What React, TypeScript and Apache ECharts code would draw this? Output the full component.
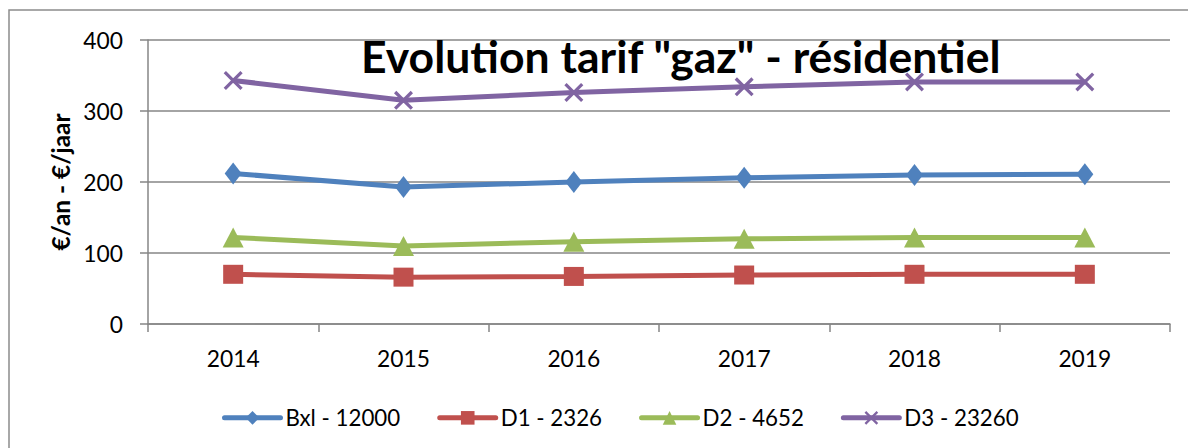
import React, { useEffect, useRef } from "react";
import * as echarts from "echarts";

const years = ["2014", "2015", "2016", "2017", "2018", "2019"];
const bxl = [212, 193, 200, 206, 210, 211];
const d1 = [70, 66, 67, 69, 70, 70];
const d2 = [122, 110, 116, 120, 122, 122];
const d3 = [343, 315, 326, 334, 341, 341];
const seriesNames = ["Bxl - 12000", "D1 - 2326", "D2 - 4652", "D3 - 23260"];
const titleText = 'Evolution tarif "gaz" - résidentiel';
const yName = "€/an - €/jaar";
const colors = ["#4F81BD", "#C0504D", "#9BBB59", "#8064A2"];

const crossPath =
  "path://M0,1.2L1.2,0L10,8.8L8.8,10Z M8.8,0L10,1.2L1.2,10L0,8.8Z";

const FONT = "Lato";

function fit(text: string, weight: string, target: number): number {
  const c = document.createElement("canvas").getContext("2d");
  if (!c) return 20;
  c.font = `${weight} 100px ${FONT}`;
  const w = c.measureText(text).width;
  return Math.round((target / w) * 100 * 10) / 10;
}

export default function App() {
  const ref = useRef<HTMLDivElement>(null);
  useEffect(() => {
    if (!ref.current) return;
    const chart = echarts.init(ref.current, null, { renderer: "svg" });
    const titleSize = fit(titleText, "bold", 640);
    const legendSize = fit("Bxl - 12000", "normal", 115);
    const tickSize = fit("2014", "normal", 53);
    const nameSize = fit(yName, "bold", 137);
    const data = [bxl, d1, d2, d3];
    const symbols = ["diamond", "rect", "triangle", crossPath];
    const sizes: any[] = [[17, 22], [20, 19], [21, 20], [19, 19]];
    chart.setOption({
      animation: false,
      backgroundColor: "#fff",
      title: {
        text: titleText,
        left: 356,
        top: 72 - titleSize,
        textStyle: { fontFamily: FONT, fontSize: titleSize, fontWeight: "bold", color: "#000" },
      },
      graphic: [
        {
          type: "rect",
          shape: { x: 9, y: 10, width: 1300, height: 600 },
          style: { fill: "none", stroke: "#8c8c8c", lineWidth: 1.5 },
          silent: true,
          z: -1,
        },
      ],
      legend: {
        left: 217,
        top: 413 - legendSize / 2,
        itemWidth: 56,
        itemHeight: 17,
        itemGap: 37,
        lineStyle: { width: 5, cap: "round" },
        textStyle: { fontFamily: FONT, fontSize: legendSize, color: "#000" },
        data: seriesNames,
      },
      grid: { left: 148, right: 18, top: 40, bottom: 124 },
      xAxis: {
        type: "category",
        data: years,
        boundaryGap: true,
        axisLine: { lineStyle: { color: "#868686", width: 1.5 } },
        axisTick: { show: true, length: 8, alignWithLabel: false, lineStyle: { color: "#868686", width: 1.5 } },
        axisLabel: { fontFamily: FONT, fontSize: tickSize, color: "#000", margin: 22 },
      },
      yAxis: {
        type: "value",
        min: 0,
        max: 400,
        interval: 100,
        name: yName,
        nameLocation: "middle",
        nameGap: 76,
        nameTextStyle: { fontFamily: FONT, fontSize: nameSize, fontWeight: "bold", color: "#000" },
        axisLine: { show: true, lineStyle: { color: "#868686", width: 1.5 } },
        axisTick: { show: true, length: 8, lineStyle: { color: "#868686", width: 1.5 } },
        splitLine: { lineStyle: { color: "#868686", width: 1.5 } },
        axisLabel: { fontFamily: FONT, fontSize: tickSize, color: "#000", margin: 25 },
      },
      series: seriesNames.map((name, i) => ({
        name,
        type: "line",
        data: data[i],
        symbol: symbols[i],
        symbolSize: sizes[i],
        lineStyle: { color: colors[i], width: 5 },
        itemStyle: { color: colors[i] },
      })),
    });
    return () => chart.dispose();
  }, []);
  return (
    <div
      ref={ref}
      style={{ position: "fixed", left: 0, top: 0, width: 1188, height: 448 }}
    />
  );
}
